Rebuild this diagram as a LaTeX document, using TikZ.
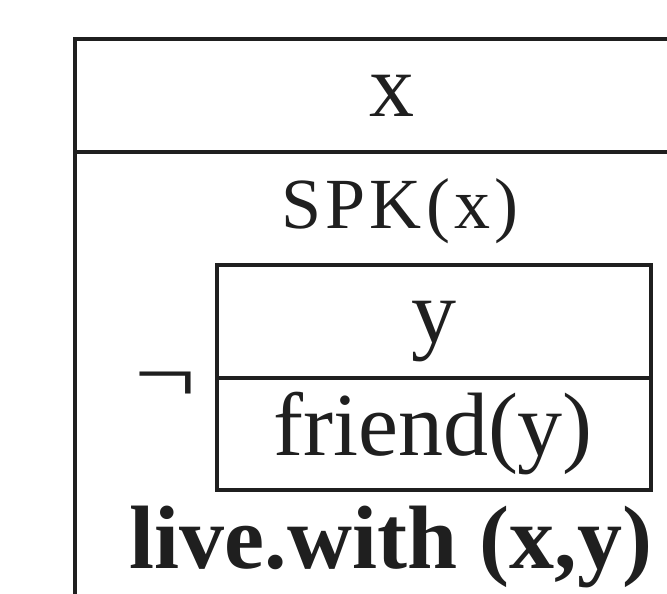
\documentclass[tikz,border=0pt]{standalone}
\usepackage{fontspec}
\setmainfont{Liberation Serif}
\begin{document}
\begin{tikzpicture}[x=1pt,y=-1pt,
  rule/.style={line width=3.2pt,color=black!88},
  big/.style={font=\fontsize{90}{100}\selectfont,inner sep=0pt,anchor=base,text=black!88},
  mid/.style={font=\fontsize{72}{80}\selectfont\addfontfeature{LetterSpace=6},inner sep=0pt,anchor=base,text=black!88},
  bold/.style={font=\fontsize{90}{100}\selectfont\bfseries,inner sep=0pt,anchor=base,text=black!88}]
\useasboundingbox (0,0) rectangle (667,594);
\clip (0,0) rectangle (667,594);
% outer DRS box (extends beyond the picture)
\draw[rule] (75,620) -- (75,39) -- (720,39);
\draw[rule] (75,152) -- (720,152);
% inner DRS box
\draw[rule] (217,265) rectangle (651,490);
\draw[rule] (217,378) -- (651,378);
% texts
\node[big] (x) at (392,116) {x};
\node[mid] (spk) at (400,228) {SPK(x)};
\node[big] (neg) at (165,402) {\scalebox{1.22}[0.95]{¬}};
\node[big] (y) at (434,342) {y};
\node[big] (friend) at (433,455) {friend(y)};
\node[bold] (live) at (391,568) {live.with (x,y)};
\end{tikzpicture}
\end{document}
